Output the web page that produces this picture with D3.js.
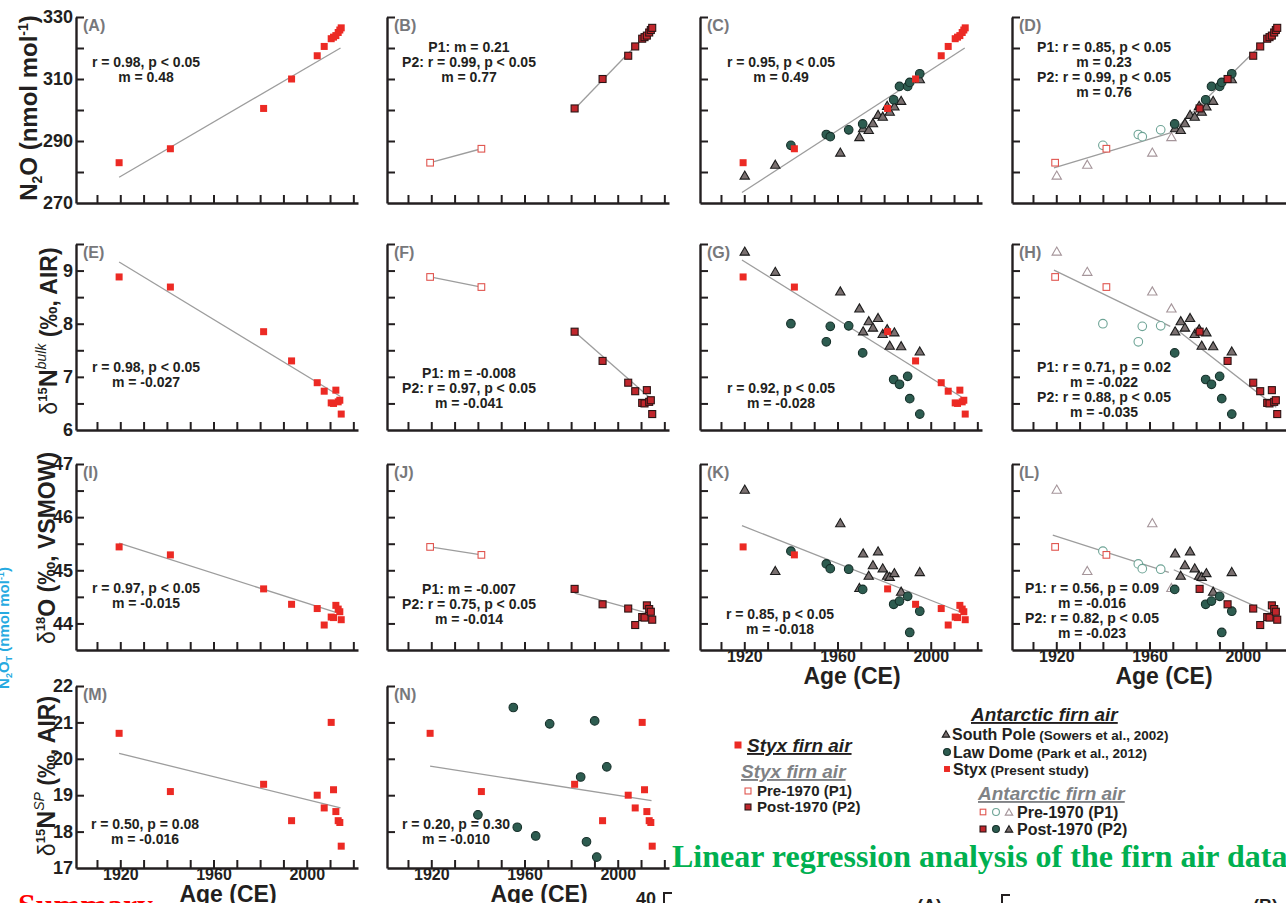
<!DOCTYPE html>
<html>
<head>
<meta charset="utf-8">
<script src="https://cdn.jsdelivr.net/npm/d3@7"></script>
<style>
body{margin:0;background:#fff}
svg{display:block}
text{font-family:"Liberation Sans",Arial,sans-serif;fill:#231f20}
</style>
</head>
<body>
<svg id="chart" width="1286" height="903"></svg>
<script>
// ---- data ----
// Styx firn air (present study)
const styxYear = [1919.5, 1941.5, 1981.5, 1993.5, 2004.5, 2007.5, 2010.5, 2011.5, 2012.5, 2013.5, 2014.2, 2014.8];
const styxN2O  = [283.0, 287.5, 300.5, 310.0, 317.5, 320.5, 323.0, 323.5, 324.0, 325.0, 325.8, 326.5];
const styxD15N = [8.88, 8.69, 7.85, 7.30, 6.89, 6.73, 6.51, 6.50, 6.75, 6.53, 6.56, 6.30];
const styxD18O = [45.44, 45.29, 44.65, 44.36, 44.28, 43.97, 44.12, 44.11, 44.34, 44.27, 44.22, 44.07];
const styxSP   = [20.7, 19.1, 19.3, 18.3, 19.0, 18.65, 21.0, 19.15, 18.55, 18.3, 18.25, 17.6];
// South Pole (Sowers et al., 2002)
const spYear = [1920.2, 1933.3, 1961.2, 1969.4, 1971.0, 1973.4, 1975.2, 1977.4, 1979.4, 1981.3, 1982.4, 1984.4, 1987.3, 1995.3];
const spN2O  = [278.9, 282.4, 286.3, 291.3, 294.2, 293.6, 295.8, 298.5, 297.9, 301.4, 299.5, 301.2, 303.0, 310.0];
const spD15N = [9.36, 8.98, 8.61, 8.29, 7.86, 8.05, 7.93, 8.11, 7.81, 7.90, 7.59, 7.84, 7.58, 7.48];
const spD18O = [46.52, 44.99, 45.89, 44.67, 45.32, 44.90, 45.10, 45.36, 45.04, 44.90, 44.88, 44.95, 44.60, 44.97];
// Law Dome (Park et al., 2012)
const ldYear = [1940.0, 1955.2, 1956.9, 1964.8, 1970.8, 1984.1, 1986.6, 1990.1, 1991.0, 1995.3];
const ldN2O  = [288.6, 292.1, 291.4, 293.6, 295.5, 303.3, 307.6, 307.6, 308.9, 311.7];
const ldD15N = [8.00, 7.66, 7.95, 7.96, 7.45, 6.95, 6.86, 7.01, 6.59, 6.30];
const ldD18O = [45.36, 45.12, 45.03, 45.02, 44.64, 44.36, 44.42, 44.51, 43.83, 44.23];
const ldSP   = [18.46, 21.41, 18.12, 17.88, 20.96, 19.50, 17.72, 21.04, 17.30, 19.78];

// regression lines (end points as drawn)
const fitA  = [[1919.5, 278.3], [2014.5, 320.0]];
const fitB1 = [[1919.5, 283.0], [1941.5, 287.5]];
const fitB2 = [[1981.5, 300.3], [2014.8, 326.3]];
const fitC  = [[1919.0, 273.4], [2014.6, 320.0]];
const fitD1 = [[1919.0, 281.3], [1968.9, 292.6]];
const fitD2 = [[1970.8, 293.6], [2014.8, 326.1]];
const fitE  = [[1919.5, 9.16], [2014.5, 6.63]];
const fitF1 = [[1919.5, 8.88], [1941.5, 8.69]];
const fitF2 = [[1981.5, 7.85], [2014.5, 6.58]];
const fitG  = [[1919.0, 9.20], [2013.2, 6.62]];
const fitH1 = [[1919.0, 9.01], [1968.9, 7.95]];
const fitH2 = [[1970.5, 7.93], [2014.4, 6.43]];
const fitI  = [[1919.5, 45.51], [2014.5, 44.18]];
const fitJ1 = [[1919.5, 45.44], [1941.5, 45.29]];
const fitJ2 = [[1981.5, 44.57], [2014.8, 44.17]];
const fitK  = [[1919.0, 45.84], [2013.0, 44.21]];
const fitL1 = [[1918.5, 45.66], [1968.3, 44.96]];
const fitL2 = [[1970.4, 45.01], [2013.1, 44.17]];
const fitM  = [[1919.5, 20.15], [2014.5, 18.65]];
const fitN  = [[1919.5, 19.80], [2014.5, 18.85]];

// statistics printed in the panels
const statsA = ["r = 0.98, p < 0.05", "m = 0.48"];
const statsB = ["P1: m = 0.21", "P2: r = 0.99, p < 0.05", "m = 0.77"];
const statsC = ["r = 0.95, p < 0.05", "m = 0.49"];
const statsD = ["P1: r = 0.85, p < 0.05", "m = 0.23", "P2: r = 0.99, p < 0.05", "m = 0.76"];
const statsE = ["r = 0.98, p < 0.05", "m = -0.027"];
const statsF = ["P1: m = -0.008", "P2: r = 0.97, p < 0.05", "m = -0.041"];
const statsG = ["r = 0.92, p < 0.05", "m = -0.028"];
const statsH = ["P1: r = 0.71, p = 0.02", "m = -0.022", "P2: r = 0.88, p < 0.05", "m = -0.035"];
const statsI = ["r = 0.97, p < 0.05", "m = -0.015"];
const statsJ = ["P1: m = -0.007", "P2: r = 0.75, p < 0.05", "m = -0.014"];
const statsK = ["r = 0.85, p < 0.05", "m = -0.018"];
const statsL = ["P1: r = 0.56, p = 0.09", "m = -0.016", "P2: r = 0.82, p < 0.05", "m = -0.023"];
const statsM = ["r = 0.50, p = 0.08", "m = -0.016"];
const statsN = ["r = 0.20, p = 0.30", "m = -0.010"];

// axes
const xTickYears  = [1910, 1920, 1930, 1940, 1950, 1960, 1970, 1980, 1990, 2000, 2010, 2020];
const xTickLabels = [1920, 1960, 2000];
const yTicks0 = [280, 290, 300, 310, 320, 330];
const yTicks1 = [6.5, 7, 7.5, 8, 8.5, 9, 9.5];
const yTicks2 = [44, 44.5, 45, 45.5, 46, 46.5, 47];
const yTicks3 = [18, 19, 20, 21, 22];
const yLabels0 = [330, 310, 290, 270];
const yLabels1 = [9, 8, 7, 6];
const yLabels2 = [47, 46, 45, 44];
const yLabels3 = [22, 21, 20, 19, 18, 17];

const splitYear = 1970;

// ---- layout ----
const colX = [76, 387, 700, 1012];
const plotW = 282;
const xDomain = [1901, 2022];
const rowGeo = [
  {top: 17,  bottom: 203, domain: [270, 330], ticks: yTicks0, labels: yLabels0},
  {top: 244, bottom: 430, domain: [6, 9.5],   ticks: yTicks1, labels: yLabels1},
  {top: 464, bottom: 650, domain: [43.5, 47], ticks: yTicks2, labels: yLabels2},
  {top: 686, bottom: 868, domain: [17, 22],   ticks: yTicks3, labels: yLabels3}
];
const rowVals = [
  {styx: styxN2O,  sp: spN2O,  ld: ldN2O},
  {styx: styxD15N, sp: spD15N, ld: ldD15N},
  {styx: styxD18O, sp: spD18O, ld: ldD18O},
  {styx: styxSP,   sp: null,   ld: ldSP}
];

const panels = [
  {id: "A", col: 0, row: 0, mode: "styx",  fits: [fitA],         stats: statsA, pos: [146, 62]},
  {id: "B", col: 1, row: 0, mode: "split", fits: [fitB1, fitB2], stats: statsB, pos: [469, 47]},
  {id: "C", col: 2, row: 0, mode: "all",   fits: [fitC],         stats: statsC, pos: [781, 62]},
  {id: "D", col: 3, row: 0, mode: "allSplit", fits: [fitD1, fitD2], stats: statsD, pos: [1104, 47]},
  {id: "E", col: 0, row: 1, mode: "styx",  fits: [fitE],         stats: statsE, pos: [146, 367]},
  {id: "F", col: 1, row: 1, mode: "split", fits: [fitF1, fitF2], stats: statsF, pos: [469, 373]},
  {id: "G", col: 2, row: 1, mode: "all",   fits: [fitG],         stats: statsG, pos: [781, 388]},
  {id: "H", col: 3, row: 1, mode: "allSplit", fits: [fitH1, fitH2], stats: statsH, pos: [1104, 367]},
  {id: "I", col: 0, row: 2, mode: "styx",  fits: [fitI],         stats: statsI, pos: [146, 588]},
  {id: "J", col: 1, row: 2, mode: "split", fits: [fitJ1, fitJ2], stats: statsJ, pos: [469, 589]},
  {id: "K", col: 2, row: 2, mode: "all",   fits: [fitK],         stats: statsK, pos: [780, 614], xlab: true},
  {id: "L", col: 3, row: 2, mode: "allSplit", fits: [fitL1, fitL2], stats: statsL, pos: [1092, 588], xlab: true},
  {id: "M", col: 0, row: 3, mode: "styx",  fits: [fitM],         stats: statsM, pos: [145, 824], xlab: true},
  {id: "N", col: 1, row: 3, mode: "all",   fits: [fitN],         stats: statsN, pos: [456, 824], xlab: true}
];

const styles = {
  styx:  {shape: "sq",  fill: "#ec2a24", stroke: "none"},
  p2sq:  {shape: "sq",  fill: "#c0262c", stroke: "#2b1414"},
  p1sq:  {shape: "sq",  fill: "#fff",    stroke: "#e0554f"},
  tri:   {shape: "tri", fill: "#7a7070", stroke: "#1c1c1c"},
  p1tri: {shape: "tri", fill: "#fff",    stroke: "#a5959a"},
  circ:  {shape: "cir", fill: "#2d5c50", stroke: "#16302a"},
  p1cir: {shape: "cir", fill: "#fff",    stroke: "#6ea496"}
};

const svg = d3.select("#chart");
svg.append("rect").attr("width", 1286).attr("height", 903).attr("fill", "#fff");

function marker(g, styleKey, cx, cy, k) {
  const s = styles[styleKey];
  const f = k || 1;
  let el;
  if (s.shape === "sq") {
    const w = 7 * f;
    el = g.append("rect").attr("x", cx - w / 2).attr("y", cy - w / 2).attr("width", w).attr("height", w);
  } else if (s.shape === "tri") {
    el = g.append("path").attr("d", d3.symbol(d3.symbolTriangle, 38 * f * f)()).attr("transform", `translate(${cx},${cy + 1})`);
  } else {
    el = g.append("circle").attr("cx", cx).attr("cy", cy).attr("r", 4.3 * f);
  }
  el.attr("fill", s.fill).attr("stroke", s.stroke).attr("stroke-width", s.stroke === "none" ? 0 : 1.1);
  return el;
}

const lineGen = (x, y) => d3.line().x(d => x(d[0])).y(d => y(d[1]));
const fontStack = '"Liberation Sans", Arial, sans-serif';

panels.forEach(p => {
  const r = rowGeo[p.row];
  const v = rowVals[p.row];
  const x0 = colX[p.col];
  const x = d3.scaleLinear().domain(xDomain).range([x0, x0 + plotW]);
  const y = d3.scaleLinear().domain(r.domain).range([r.bottom, r.top]);
  const g = svg.append("g").attr("class", "panel-" + p.id);

  // y axis, ticks pointing inward
  const ya = g.append("g").attr("transform", `translate(${x0},0)`)
    .call(d3.axisRight(y).tickValues(r.ticks).tickSize(8).tickSizeOuter(0).tickFormat(""));
  // x axis, ticks pointing up
  const xa = g.append("g").attr("transform", `translate(0,${r.bottom})`)
    .call(d3.axisTop(x).tickValues(xTickYears).tickSize(8).tickSizeOuter(0).tickFormat(""));
  [ya, xa].forEach(a => {
    a.selectAll("path, line").attr("stroke", "#231f20").attr("stroke-width", 2);
    a.select(".domain").attr("stroke-width", 2.4);
  });

  if (p.col === 0) {
    const yl = g.append("g").attr("transform", `translate(${x0 - 3},0)`)
      .call(d3.axisLeft(y).tickValues(r.labels).tickSize(0).tickPadding(0).tickFormat(d3.format("d")));
    yl.select(".domain").remove();
    yl.selectAll("text").attr("font-size", 18).attr("font-weight", "bold").attr("fill", "#231f20")
      .style("font-family", fontStack);
  }
  if (p.xlab) {
    const xl = g.append("g").attr("transform", `translate(0,${r.bottom})`)
      .call(d3.axisBottom(x).tickValues(xTickLabels).tickSize(0).tickPadding(1).tickFormat(d3.format("d")));
    xl.select(".domain").remove();
    xl.selectAll("text").attr("font-size", 16).attr("font-weight", "bold").attr("fill", "#231f20")
      .style("font-family", fontStack);
    g.append("text").attr("x", x0 + 152).attr("y", r.bottom + 34).attr("text-anchor", "middle")
      .attr("font-size", 23).attr("font-weight", "bold").text("Age (CE)");
  }

  // panel letter
  g.append("text").attr("x", x0 + 7).attr("y", r.top + 14).attr("font-size", 16).attr("font-weight", "bold")
    .style("fill", "#77787b").text(`(${p.id})`);

  // regression lines
  p.fits.forEach(f => {
    g.append("path").datum(f).attr("d", lineGen(x, y)).attr("fill", "none")
      .attr("stroke", "#9d9d9d").attr("stroke-width", 1.3);
  });

  // markers
  const split = p.mode === "split" || p.mode === "allSplit";
  const withOthers = p.mode === "all" || p.mode === "allSplit";
  if (withOthers && v.sp) {
    spYear.forEach((yr, i) => marker(g, split && yr < splitYear ? "p1tri" : "tri", x(yr), y(v.sp[i])));
  }
  if (withOthers && v.ld) {
    ldYear.forEach((yr, i) => marker(g, split && yr < splitYear ? "p1cir" : "circ", x(yr), y(v.ld[i])));
  }
  styxYear.forEach((yr, i) => {
    const st = split ? (yr < splitYear ? "p1sq" : "p2sq") : "styx";
    marker(g, st, x(yr), y(v.styx[i]), split && yr < splitYear ? 0.95 : 1);
  });

  // statistics
  p.stats.forEach((s, i) => {
    g.append("text").attr("x", p.pos[0]).attr("y", p.pos[1] + i * 15 + 5).attr("text-anchor", "middle")
      .attr("font-size", 14).attr("font-weight", "bold").text(s);
  });
});

// ---- y axis titles ----
function yTitle(cx, cy, parts) {
  const t = svg.append("text").attr("transform", `translate(${cx},${cy}) rotate(-90)`).attr("text-anchor", "middle");
  parts.forEach(pt => {
    const ts = t.append("tspan").text(pt.t).attr("font-size", pt.s || 24).attr("font-weight", pt.w || "bold");
    if (pt.dy) ts.attr("dy", pt.dy);
    if (pt.i) ts.attr("font-style", "italic");
    if (pt.fill) ts.style("fill", pt.fill);
  });
  return t;
}
yTitle(37, 108, [{t: "N"}, {t: "2", s: 14, dy: 5}, {t: "O (nmol mol", dy: -5}, {t: "-1", s: 14, dy: -9}, {t: ")", dy: 9}]);
yTitle(57, 331, [{t: "δ", w: "normal", s: 23}, {t: "15", s: 13, dy: -10}, {t: "N", s: 25, dy: 10}, {t: "bulk", s: 14, dy: -11, i: true, w: "normal"}, {t: " (‰, AIR)", s: 23, dy: 11}]);
yTitle(55, 548, [{t: "δ", w: "normal", s: 23}, {t: "18", s: 13, dy: -10}, {t: "O (‰, VSMOW)", s: 23, dy: 10}]);
yTitle(55, 776, [{t: "δ", w: "normal", s: 23}, {t: "15", s: 13, dy: -10}, {t: "N", s: 25, dy: 10}, {t: "SP", s: 14, dy: -11, i: true, w: "normal"}, {t: " (‰, AIR)", s: 23, dy: 11}]);
// clipped title from the neighbouring figure
yTitle(9, 628, [{t: "N", s: 15, fill: "#27aae1"}, {t: "2", s: 9, dy: 3, fill: "#27aae1"}, {t: "O", s: 15, dy: -3, fill: "#27aae1"}, {t: "T", s: 9, dy: 3, fill: "#27aae1"}, {t: " (nmol mol", s: 15, dy: -3, fill: "#27aae1"}, {t: "-1", s: 9, dy: -5, fill: "#27aae1"}, {t: ")", s: 15, dy: 5, fill: "#27aae1"}]);

// ---- legends ----
const lg = svg.append("g");
function legText(xp, yp, txt, opt) {
  const t = lg.append("text").attr("x", xp).attr("y", yp).attr("font-size", opt.s).attr("font-weight", opt.w || "bold").text(txt);
  if (opt.i) t.attr("font-style", "italic");
  if (opt.u) t.attr("text-decoration", "underline");
  if (opt.fill) t.style("fill", opt.fill);
  return t;
}
const grey = "#808285";
marker(lg, "styx", 738, 745, 1);
legText(747, 752, "Styx firn air", {s: 19, i: true, u: true});
legText(741, 778, "Styx firn air", {s: 19, i: true, u: true, fill: grey});
marker(lg, "p1sq", 748, 791, 0.85);
legText(757, 796, "Pre-1970 (P1)", {s: 15});
marker(lg, "p2sq", 748, 807, 0.85);
legText(757, 812, "Post-1970 (P2)", {s: 15});

legText(971, 721, "Antarctic firn air", {s: 19, i: true, u: true});
marker(lg, "tri", 946, 734, 0.8);
legText(952, 740, "South Pole", {s: 16}).append("tspan").attr("font-size", 13.5).text(" (Sowers et al., 2002)");
marker(lg, "circ", 947, 752, 0.8);
legText(953, 758, "Law Dome", {s: 16}).append("tspan").attr("font-size", 13.5).text(" (Park et al., 2012)");
marker(lg, "styx", 947, 769, 0.85);
legText(953, 775, "Styx", {s: 16}).append("tspan").attr("font-size", 13.5).text(" (Present study)");
legText(978, 800, "Antarctic firn air", {s: 19, i: true, u: true, fill: grey});
marker(lg, "p1sq", 983, 812, 0.8);
marker(lg, "p1cir", 996, 812, 0.8);
marker(lg, "p1tri", 1009, 812, 0.8);
legText(1017, 818, "Pre-1970 (P1)", {s: 16});
marker(lg, "p2sq", 983, 829, 0.85);
marker(lg, "circ", 996, 829, 0.8);
marker(lg, "tri", 1009, 829, 0.8);
legText(1017, 835, "Post-1970 (P2)", {s: 16});

// ---- captions and page fragments ----
svg.append("text").attr("x", 672).attr("y", 867).attr("font-size", 32).attr("font-weight", "bold")
  .style("font-family", '"Liberation Serif", "Times New Roman", serif').style("fill", "#00b050")
  .text("Linear regression analysis of the firn air data");
svg.append("text").attr("x", 18).attr("y", 916).attr("font-size", 32).attr("font-weight", "bold")
  .style("font-family", '"Liberation Serif", "Times New Roman", serif').style("fill", "#ff0000").text("Summary");
svg.append("text").attr("x", 636).attr("y", 905).attr("font-size", 18).attr("font-weight", "bold").text("40");
svg.append("path").attr("d", "M664,903V893H672").attr("fill", "none").attr("stroke", "#231f20").attr("stroke-width", 2);
svg.append("text").attr("x", 917).attr("y", 912).attr("font-size", 18).attr("font-weight", "bold").text("(A)");
svg.append("path").attr("d", "M1002,903V895H1010").attr("fill", "none").attr("stroke", "#231f20").attr("stroke-width", 2);
svg.append("text").attr("x", 1253).attr("y", 912).attr("font-size", 18).attr("font-weight", "bold").text("(B)");
</script>
</body>
</html>
